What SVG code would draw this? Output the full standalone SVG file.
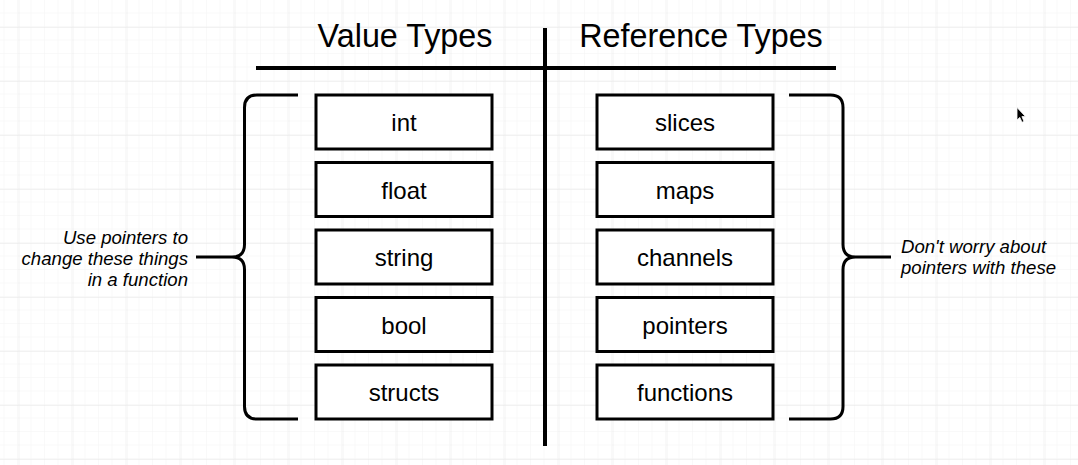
<svg xmlns="http://www.w3.org/2000/svg" width="1078" height="465" viewBox="0 0 1078 465">
<defs>
<pattern id="minor" x="4.5" y="0" width="13.5" height="13.5" patternUnits="userSpaceOnUse">
<path d="M13.5 0V13.5M0 13.5H13.5" fill="none" stroke="#f4f4f4" stroke-width="1"/>
</pattern>
<pattern id="major" x="18.5" y="27" width="54" height="54" patternUnits="userSpaceOnUse">
<path d="M0 0V54M0 0H54" fill="none" stroke="#e6e6e6" stroke-width="1"/>
</pattern>
</defs>
<style>
.box{fill:#fff;stroke:#000;stroke-width:3}
.lbl{font-family:"Liberation Sans",Arial,sans-serif;font-size:24px;fill:#000;text-anchor:middle}
.title{font-family:"Liberation Sans",Arial,sans-serif;font-size:32.3px;fill:#000;text-anchor:middle}
.note{font-family:"Liberation Sans",Arial,sans-serif;font-size:18.6px;font-style:italic;fill:#000}
.brace{fill:none;stroke:#000;stroke-width:3}
.rule{stroke:#000;stroke-width:4}
</style>
<rect width="1078" height="465" fill="#fff"/>
<rect width="1078" height="465" fill="url(#minor)"/>
<rect width="1078" height="465" fill="url(#major)"/>

<g id="headers">
<text class="title" x="405" y="47">Value Types</text>
<text class="title" x="701" y="47">Reference Types</text>
<line class="rule" x1="256" y1="68" x2="836" y2="68"/>
<line class="rule" x1="545" y1="28" x2="545" y2="446"/>
</g>

<g id="value-types">
<g id="n-int"><rect class="box" x="316" y="95" width="176" height="54"/><text class="lbl" x="404" y="131">int</text></g>
<g id="n-float"><rect class="box" x="316" y="162.5" width="176" height="54"/><text class="lbl" x="404" y="198.5">float</text></g>
<g id="n-string"><rect class="box" x="316" y="230" width="176" height="54"/><text class="lbl" x="404" y="266">string</text></g>
<g id="n-bool"><rect class="box" x="316" y="297.5" width="176" height="54"/><text class="lbl" x="404" y="333.5">bool</text></g>
<g id="n-structs"><rect class="box" x="316" y="365" width="176" height="54"/><text class="lbl" x="404" y="401">structs</text></g>
</g>

<g id="reference-types">
<g id="n-slices"><rect class="box" x="597" y="95" width="176" height="54"/><text class="lbl" x="685" y="131">slices</text></g>
<g id="n-maps"><rect class="box" x="597" y="162.5" width="176" height="54"/><text class="lbl" x="685" y="198.5">maps</text></g>
<g id="n-channels"><rect class="box" x="597" y="230" width="176" height="54"/><text class="lbl" x="685" y="266">channels</text></g>
<g id="n-pointers"><rect class="box" x="597" y="297.5" width="176" height="54"/><text class="lbl" x="685" y="333.5">pointers</text></g>
<g id="n-functions"><rect class="box" x="597" y="365" width="176" height="54"/><text class="lbl" x="685" y="401">functions</text></g>
</g>

<g id="connectors">
<path class="brace" d="M298 95H257Q244.5 95 244.5 107.5V244.5Q244.5 257 232 257Q244.5 257 244.5 269.5V406.5Q244.5 419 257 419H298M232 257H196"/>
<path class="brace" d="M789 95H830.5Q843 95 843 107.5V244.5Q843 257 855.5 257Q843 257 843 269.5V406.5Q843 419 830.5 419H789M855.5 257H891"/>
</g>

<g id="note-left">
<text class="note" x="188" y="244" text-anchor="end">Use pointers to</text>
<text class="note" x="188" y="265" text-anchor="end">change these things</text>
<text class="note" x="188" y="286" text-anchor="end">in a function</text>
</g>
<g id="note-right">
<text class="note" x="901" y="253">Don't worry about</text>
<text class="note" x="901" y="274">pointers with these</text>
</g>

<g id="cursor">
<path d="M1017 107.5V120L1019.8 117.4L1022 122.3L1024 121.4L1021.9 116.6H1025.5Z" fill="#000" stroke="#fff" stroke-width="0.8"/>
</g>
</svg>
